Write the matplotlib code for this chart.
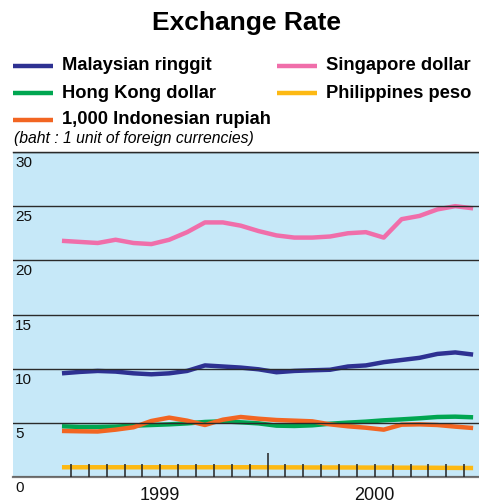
import numpy as np
import matplotlib
matplotlib.use("Agg")
import matplotlib.pyplot as plt
from matplotlib.lines import Line2D
from matplotlib.transforms import offset_copy, blended_transform_factory

plt.rcParams['font.family'] = ['Liberation Sans', 'DejaVu Sans']

# monthly data, Jan 1999 - Dec 2000 (baht per unit)
months = np.arange(24)
years = ['1999', '2000']
labels = ['Malaysian ringgit', 'Hong Kong dollar', '1,000 Indonesian rupiah',
          'Singapore dollar', 'Philippines peso']
colors = ['#2E3192', '#00A651', '#F26522', '#F06EAA', '#FDB913']

myr = [9.57, 9.70, 9.79, 9.73, 9.57, 9.48, 9.57, 9.79, 10.30, 10.20, 10.10, 9.94,
       9.67, 9.79, 9.85, 9.90, 10.20, 10.30, 10.60, 10.80, 11.00, 11.36, 11.50, 11.30]
hkd = [4.68, 4.62, 4.62, 4.65, 4.74, 4.80, 4.86, 4.95, 5.08, 5.14, 5.05, 4.95,
       4.74, 4.71, 4.77, 4.92, 5.02, 5.11, 5.23, 5.32, 5.42, 5.54, 5.57, 5.51]
idr = [4.25, 4.22, 4.20, 4.37, 4.59, 5.17, 5.48, 5.20, 4.80, 5.29, 5.54, 5.38,
       5.26, 5.20, 5.14, 4.86, 4.68, 4.55, 4.37, 4.83, 4.86, 4.80, 4.65, 4.52]
sgd = [21.8, 21.7, 21.6, 21.9, 21.6, 21.5, 21.9, 22.6, 23.5, 23.5, 23.2, 22.7,
       22.3, 22.1, 22.1, 22.2, 22.5, 22.6, 22.1, 23.8, 24.1, 24.7, 25.0, 24.8]
php = [0.90, 0.90, 0.90, 0.90, 0.90, 0.90, 0.90, 0.90, 0.90, 0.90, 0.90, 0.90,
       0.89, 0.89, 0.88, 0.88, 0.88, 0.87, 0.87, 0.86, 0.86, 0.85, 0.84, 0.83]
series = [myr, hkd, idr, sgd, php]
yticks = [0, 5, 10, 15, 20, 25, 30]

W, H = 479, 504
fig = plt.figure(figsize=(W / 100, H / 100), dpi=100)
ax = fig.add_axes([13 / W, (H - 477) / H, (W - 13) / W, (477 - 152) / H])
ax.set_facecolor('#C6E8F8')

# draw order: yellow, green, orange, navy, pink
for i in [4, 1, 2, 0, 3]:
    ax.plot(months, series[i], color=colors[i], lw=3.2, solid_capstyle='butt',
            solid_joinstyle='round', zorder=2)

ax.set_xlim(-2.74, 23.33)
ax.set_ylim(0, 30)
ax.set_yticks(yticks)
ax.set_yticklabels([])
ax.tick_params(axis='y', length=0)
ax.grid(axis='y', color='#2a2a2a', lw=1.0)
ax.set_axisbelow(False)

# month ticks at boundaries, taller one at the year change
ax.set_xticks([11.5])
ax.set_xticklabels([])
ax.set_xticks([m + 0.5 for m in months[:-1] if m != 11], minor=True)
ax.tick_params(axis='x', which='major', direction='in', length=17.5, width=1.1, color='#222222')
ax.tick_params(axis='x', which='minor', direction='in', length=9.5, width=1.1, color='#222222')
for t in ax.xaxis.get_ticklines(minor=True) + ax.xaxis.get_ticklines():
    t.set_zorder(5)

for s in ['left', 'right']:
    ax.spines[s].set_visible(False)
ax.spines['top'].set_color('#111111')
ax.spines['top'].set_linewidth(1.0)
ax.spines['bottom'].set_color('#777777')
ax.spines['bottom'].set_linewidth(1.6)

# y labels placed just under each gridline
tr = offset_copy(blended_transform_factory(ax.transAxes, ax.transData), fig=fig, x=2, y=-4, units='dots')
for v in yticks:
    ax.text(0, v, str(v), transform=tr, ha='left', va='top', fontsize=11, color='#111111')

trx = offset_copy(ax.get_xaxis_transform(), fig=fig, x=0, y=-10, units='dots')
for k, yr in enumerate(years):
    ax.text(5.5 + 12 * k, 0, yr, transform=trx, ha='center', va='top', fontsize=13, color='#111111')

# title
fig.text((13 + 479) / 2 / W, 1 - 23 / H, 'Exchange Rate', ha='center', va='center',
         fontsize=19, fontweight='bold')

# legend
pos = [(13, 66), (13, 93), (13, 120), (277, 66), (277, 93)]
for i, (px, py) in enumerate(pos):
    yy = 1 - py / H
    fig.add_artist(Line2D([px / W, (px + 40) / W], [yy, yy], color=colors[i], lw=3.2,
                          solid_capstyle='butt'))
    fig.text((px + 49) / W, yy, labels[i], ha='left', va='center', fontsize=13.2,
             fontweight='bold')
fig.text(14 / W, 1 - 138 / H, '(baht : 1 unit of foreign currencies)', ha='left',
         va='center', fontsize=11.3, style='italic')

fig.savefig('out.png', dpi=100)
